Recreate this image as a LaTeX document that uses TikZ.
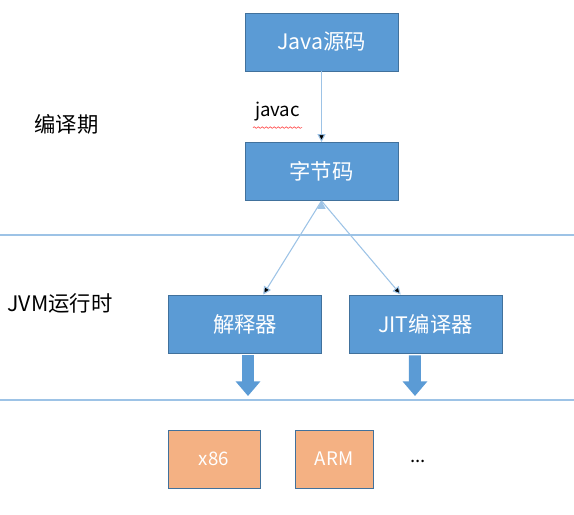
\documentclass[tikz,border=0pt]{standalone}
\usepackage{fontspec}
\setmainfont{Noto Sans CJK SC}
\usepackage{tikz}
\usetikzlibrary{arrows.meta,positioning,decorations.pathmorphing}

\definecolor{boxblue}{HTML}{5B9BD5}
\definecolor{edgeblue}{HTML}{41719C}
\definecolor{lineblue}{HTML}{9DC3E6}
\definecolor{boxorange}{HTML}{F4B183}

\tikzset{
  stage/.style={rectangle, draw=edgeblue, fill=boxblue, line width=0.6pt, text=white,
    minimum width=114.75pt, minimum height=43.5pt, font=\fontsize{16}{18}\selectfont},
  target/.style={rectangle, draw=edgeblue, fill=boxorange, line width=0.6pt, text=white,
    minimum height=43.5pt, font=\fontsize{14}{16}\selectfont},
  lbl/.style={font=\fontsize{16}{18}\selectfont, text=black},
  thin/.style={-{Triangle[length=6pt,width=6pt]}, draw=lineblue, line width=0.8pt},
  fat/.style={-{Triangle[length=11pt,width=18pt]}, draw=boxblue, line width=9pt},
}

\begin{document}
\begin{tikzpicture}[x=0.75pt, y=-0.75pt]
   \useasboundingbox (0,0) rectangle (574,514);
   \node[stage] (src) at (321.5,42) {Java源码};
   \node[stage] (bytecode) at (321.5,171.5) {字节码};
   \node[stage] (interp) at (245,324) {解释器};
   \node[stage] (jit) at (425.5,324) {JIT编译器};
   \node[target, minimum width=69pt] (x86) at (214,459) {x86};
   \node[target, minimum width=58.5pt] (arm) at (334,459) {ARM};
   \node[lbl, font=\fontsize{14}{16}\selectfont] (more) at (418,461) {...};

   \node[lbl, font=\fontsize{14}{16}\selectfont] (javac) at (277.5,112) {javac};
   \node[lbl] (compile) at (66.5,124) {编译期};
   \node[lbl] (runtime) at (60,303) {JVM运行时};

   % phase separators
   \coordinate (l1) at (0,235);
   \coordinate (r1) at (574,235);
   \coordinate (l2) at (0,400);
   \coordinate (r2) at (574,400);
   \draw[lineblue, line width=1pt] (l1) -- (r1);
   \draw[lineblue, line width=1pt] (l2) -- (r2);

   % spell check mark under javac
   \draw[red!80, line width=0.4pt, decorate,
     decoration={snake, amplitude=0.6pt, segment length=3pt}]
     ([yshift=-1pt,xshift=2pt]javac.south west) -- ([yshift=-1pt,xshift=-2pt]javac.south east);

   \path[thin]
     (src) edge (bytecode)
     (bytecode.south) edge (interp)
     (bytecode.south) edge (jit);

   \coordinate (interpout) at (248,396);
   \coordinate (jitout) at (415,396);
   \draw[fat] ([xshift=2.25pt,yshift=-1.5pt]interp.south) -- (interpout);
   \draw[fat] ([xshift=-7.9pt,yshift=-1.5pt]jit.south) -- (jitout);
\end{tikzpicture}
\end{document}
